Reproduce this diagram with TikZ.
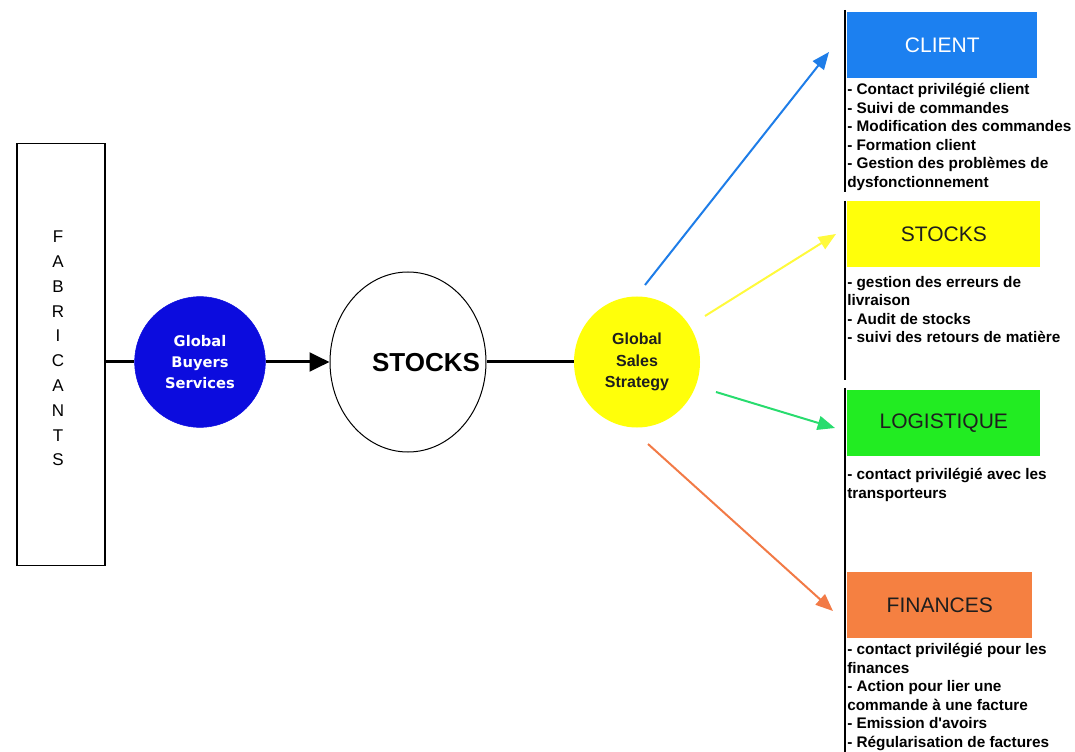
\documentclass[tikz,border=0pt]{standalone}
\usepackage{fontspec}
\setmainfont{Liberation Sans}
\newfontfamily\verdanaish{DejaVu Sans}
\usetikzlibrary{arrows.meta,shapes.geometric}
\definecolor{gbsblue}{RGB}{12,12,222}
\definecolor{clientblue}{RGB}{28,128,240}
\definecolor{arrowblue}{RGB}{30,125,232}
\definecolor{yel}{RGB}{255,255,10}
\definecolor{arrowyel}{RGB}{255,250,60}
\definecolor{boxgreen}{RGB}{34,236,34}
\definecolor{arrowgreen}{RGB}{40,220,110}
\definecolor{boxorange}{RGB}{245,128,65}
\definecolor{arroworange}{RGB}{242,122,70}
\definecolor{darktext}{RGB}{30,30,30}
\tikzset{
  thickline/.style={line width=2.25pt, black},
  colarrow/.style={line width=1.5pt, -{Triangle[length=13pt,width=10.5pt]}},
  header/.style={rectangle, anchor=north west, inner sep=0pt, minimum height=49pt,
    font=\fontsize{15.75}{18}\selectfont},
  items/.style={anchor=north west, inner sep=0pt, align=left,
    font=\fontsize{11.5}{13.9}\selectfont\bfseries},
  sideline/.style={line width=1.5pt, black},
}
\begin{document}
\begin{tikzpicture}[x=0.75pt,y=-0.75pt]
\useasboundingbox (0,0) rectangle (1075,752);
% left part
\node[draw, line width=0.9pt, rectangle, minimum width=66pt, minimum height=317pt, inner sep=0pt] (fab) at (61,354.5) {};
\node[align=center, font=\fontsize{12.75}{18.6}\selectfont, inner sep=0pt] (fabtxt) at (58,348.5)
  {F\\A\\B\\R\\I\\C\\A\\N\\T\\S};
\node[circle, fill=gbsblue, draw=gbsblue, minimum size=98pt, inner sep=0pt, align=center,
  text=white, font=\verdanaish\bfseries\fontsize{11}{16}\selectfont] (gbs) at (200,362)
  {Global\\Buyers\\Services};
\node[ellipse, draw, line width=0.75pt, minimum width=117pt, minimum height=135pt, inner sep=0pt] (stk) at (408,362) {};
\node[inner sep=0pt, font=\bfseries\fontsize{19.5}{22}\selectfont] (stktxt) at (426,363) {STOCKS};
\node[ellipse, fill=yel, minimum width=94.5pt, minimum height=98.25pt, inner sep=0pt, align=center,
  text=darktext, font=\bfseries\fontsize{12}{16}\selectfont] (gss) at (637,362)
  {Global\\Sales\\Strategy};
\draw[thickline] (gbs.west -| fab.east) -- (gbs.west);
\draw[thickline, -{Triangle[length=15pt,width=14pt]}] (gbs.east) -- (stk.west);
\draw[thickline] (stk.east) -- (gss.west);
% right headers
\node[header, fill=clientblue, minimum width=142.5pt, text=white] (client) at (847,12) {CLIENT};
\node[header, fill=yel, minimum width=144.75pt, text=darktext] (stocks) at (847,201) {STOCKS};
\node[header, fill=boxgreen, minimum width=144.75pt, text=darktext] (logi) at (847,390) {LOGISTIQUE};
\node[header, fill=boxorange, minimum width=138.75pt, text=darktext] (fin) at (847,572) {FINANCES};
% item lists
\node[items] (clientitems) at (847,83) {- Contact privilégié client\\- Suivi de commandes\\- Modification des commandes\\- Formation client\\- Gestion des problèmes de\\dysfonctionnement};
\node[items] (stocksitems) at (847,276) {- gestion des erreurs de\\livraison\\- Audit de stocks\\- suivi des retours de matière};
\node[items] (logiitems) at (847,468) {- contact privilégié avec les\\transporteurs};
\node[items] (finitems) at (847,643) {- contact privilégié pour les\\finances\\- Action pour lier une\\commande à une facture\\- Emission d\textquotesingle avoirs\\- Régularisation de factures};
% side lines
\draw[sideline] (client.north west) ++(-2,-2) coordinate (cl1) -- (cl1 |- 0,192) coordinate (cl2);
\draw[sideline] (stocks.north west) ++(-2,0) coordinate (st1) -- (st1 |- 0,380) coordinate (st2);
\draw[sideline] (logi.north west) ++(-2,-2) coordinate (lo1) -- (lo1 |- 0,565) coordinate (lo2);
\draw[sideline] (fin.north west) ++(-2,-12) coordinate (fi1) -- (fi1 |- 0,752) coordinate (fi2);
% colored arrows
\coordinate (bs) at (645,285); \coordinate (be) at (829,52);
\coordinate (ys) at (705,316); \coordinate (ye) at (836,234);
\coordinate (gs) at (716,392); \coordinate (ge) at (835,428);
\coordinate (os) at (648,444); \coordinate (oe) at (833,611);
\draw[colarrow, arrowblue] (bs) -- (be);
\draw[colarrow, arrowyel] (ys) -- (ye);
\draw[colarrow, arrowgreen] (gs) -- (ge);
\draw[colarrow, arroworange] (os) -- (oe);
\end{tikzpicture}
\end{document}
